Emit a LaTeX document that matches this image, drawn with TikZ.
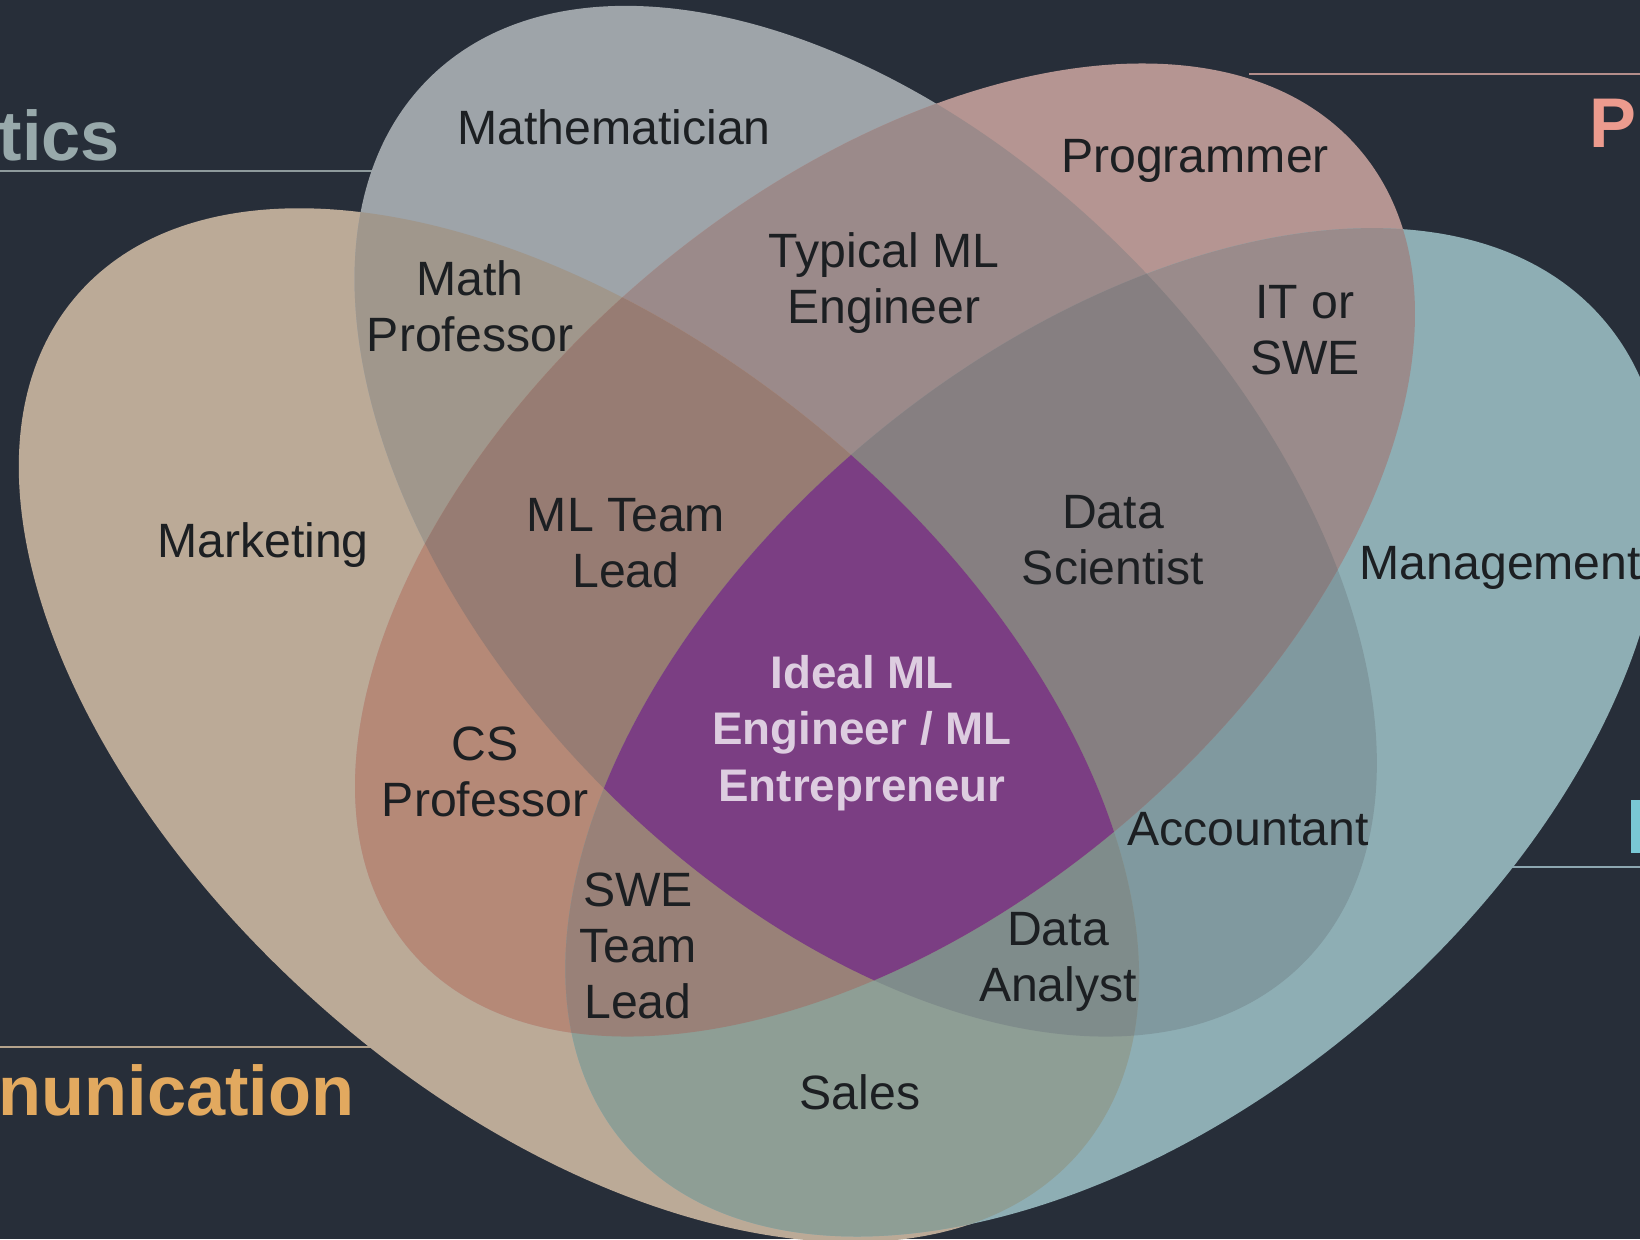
\documentclass[tikz,border=0pt]{standalone}
\usepackage{fontspec}
\setmainfont{Liberation Sans}
\definecolor{bgc}{HTML}{272E39}
\definecolor{cM}{HTML}{9EA4A9}
\definecolor{cP}{HTML}{B59592}
\definecolor{cC}{HTML}{BBAA97}
\definecolor{cG}{HTML}{8EAEB4}
\definecolor{cMP}{HTML}{9B8A8A}
\definecolor{cMC}{HTML}{A0978C}
\definecolor{cMG}{HTML}{80999F}
\definecolor{cPC}{HTML}{B58977}
\definecolor{cPG}{HTML}{9A8B8B}
\definecolor{cCG}{HTML}{8E9E95}
\definecolor{cMPC}{HTML}{977C73}
\definecolor{cMPG}{HTML}{867F81}
\definecolor{cMCG}{HTML}{7F8C8B}
\definecolor{cPCG}{HTML}{998178}
\definecolor{cAll}{HTML}{7B3E83}
\definecolor{labc}{HTML}{1C1F22}
\definecolor{idealc}{HTML}{DDCDE0}
\definecolor{ticsc}{HTML}{98A9AB}
\definecolor{progc}{HTML}{EC9B8E}
\definecolor{commc}{HTML}{E2A95F}
\definecolor{cyanc}{HTML}{79C8D5}
\definecolor{ticsl}{HTML}{8E9A9C}
\definecolor{progl}{HTML}{B48E8B}
\definecolor{comml}{HTML}{B5A38C}
\definecolor{mgmtl}{HTML}{8DA7B1}
% the four sets (pixel coordinates, y downwards)
\def\shC{(586.8,349.4) arc[start angle=-90, end angle=90, x radius=648, y radius=382] arc[start angle=90, end angle=270, x radius=671, y radius=382] -- cycle}
\def\shM{(865.7,521.2) ellipse [x radius=622, y radius=374]}
\def\shP{(885,550) ellipse [x radius=621, y radius=363]}
\def\shG{(1114.4,732.3) ellipse [x radius=640, y radius=382]}
\tikzset{
  rC/.style={rotate around={-40.38:(586.8,731.4)}},
  rM/.style={rotate around={-45.5:(865.7,521.2)}},
  rP/.style={rotate around={40:(885,550)}},
  rG/.style={rotate around={39.85:(1114.4,732.3)}},
  lab/.style={text=labc, font=\fontsize{13.7}{16}\selectfont, align=center, inner sep=0pt},
  ideal/.style={text=idealc, font=\fontsize{13}{16}\selectfont\bfseries, align=center, inner sep=0pt},
  ttl/.style={font=\fontsize{20}{24}\selectfont\bfseries, inner sep=0pt},
  tline/.style={line width=0.6pt}
}
\begin{document}
\begin{tikzpicture}[x=0.01cm,y=-0.01cm]
\fill[bgc] (0,0) rectangle (1640,1239);
\useasboundingbox (0,0) rectangle (1640,1239);
\clip (0,0) rectangle (1640,1239);
% category titles and rules
\draw[tline, ticsl] (0,171) -- (420,171);
\draw[tline, progl] (1249,74) -- (1640,74);
\draw[tline, comml] (0,1047) -- (420,1047);
\draw[tline, mgmtl] (1450,867) -- (1640,867);
\node[ttl, text=ticsc, anchor=base west] (tstat) at (-2,160) {tics};
\node[ttl, text=progc, anchor=base west] (tprog) at (1589,147) {P};
\node[ttl, text=commc, anchor=base west] (tcomm) at (-2,1115) {nunication};
\fill[cyanc] (1631,800) rectangle (1640,853);
% single sets
\fill[cC, rC] \shC;
\fill[cM, rM] \shM;
\fill[cP, rP] \shP;
\fill[cG, rG] \shG;
% pairs
\begin{scope}\clip[rM] \shM; \fill[cMP, rP] \shP; \end{scope}
\begin{scope}\clip[rM] \shM; \fill[cMC, rC] \shC; \end{scope}
\begin{scope}\clip[rM] \shM; \fill[cMG, rG] \shG; \end{scope}
\begin{scope}\clip[rP] \shP; \fill[cPC, rC] \shC; \end{scope}
\begin{scope}\clip[rP] \shP; \fill[cPG, rG] \shG; \end{scope}
\begin{scope}\clip[rC] \shC; \fill[cCG, rG] \shG; \end{scope}
% triples
\begin{scope}\clip[rM] \shM; \clip[rP] \shP; \fill[cMPC, rC] \shC; \end{scope}
\begin{scope}\clip[rM] \shM; \clip[rP] \shP; \fill[cMPG, rG] \shG; \end{scope}
\begin{scope}\clip[rM] \shM; \clip[rC] \shC; \fill[cMCG, rG] \shG; \end{scope}
\begin{scope}\clip[rP] \shP; \clip[rC] \shC; \fill[cPCG, rG] \shG; \end{scope}
% all four
\begin{scope}\clip[rM] \shM; \clip[rP] \shP; \clip[rC] \shC; \fill[cAll, rG] \shG; \end{scope}
% labels
\node[lab, anchor=base] (mathn) at (614,144) {Mathematician};
\node[lab, anchor=base] (progn) at (1195,172) {Programmer};
\node[lab] (mprof) at (470,306) {Math\\Professor};
\node[lab] (typ) at (884,283) {Typical ML\\Engineer};
\node[lab] (itswe) at (1305,330) {IT or\\SWE};
\node[lab, anchor=base] (mkt) at (263,557) {Marketing};
\node[lab] (mltl) at (626,543) {ML Team\\Lead};
\node[lab] (ds) at (1113,540) {Data\\Scientist};
\node[lab, anchor=base west] (mgmt) at (1359,579) {Management};
\node[ideal] (idealn) at (862,733) {Ideal ML\\Engineer / ML\\Entrepreneur};
\node[lab] (csp) at (485,772) {CS\\Professor};
\node[lab, anchor=base] (acc) at (1248,845) {Accountant};
\node[lab] (swetl) at (638,946) {SWE\\Team\\Lead};
\node[lab] (da) at (1058,962) {Data\\Analyst};
\node[lab, anchor=base] (sales) at (860,1109) {Sales};
\end{tikzpicture}
\end{document}
